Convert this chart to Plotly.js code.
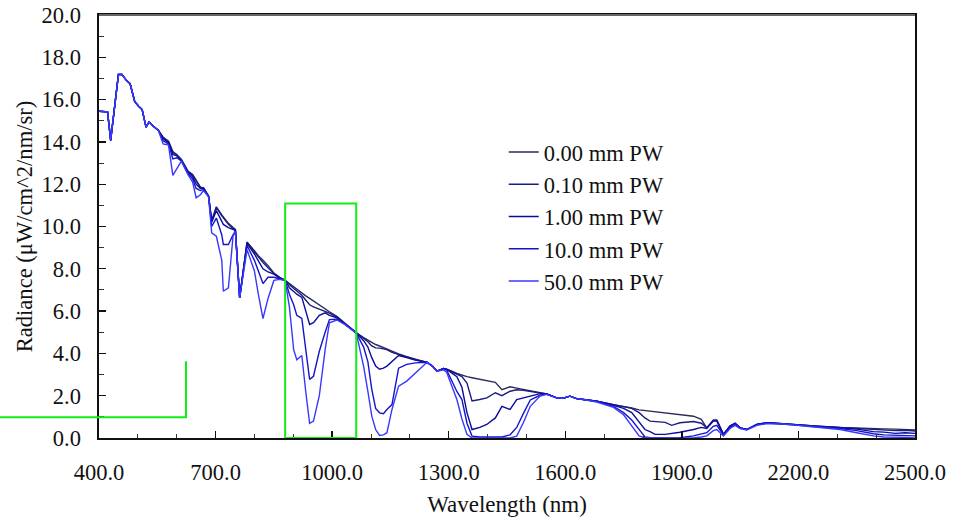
<!DOCTYPE html>
<html>
<head>
<meta charset="utf-8">
<script src="https://cdn.plot.ly/plotly-3.0.1.min.js"></script>
</head>
<body style="margin:0;background:#fff">
<div id="chart"></div>
<script>
// Wavelength grid (nm)
const wavelength = [
  400, 422, 430, 442, 450, 459, 470, 480, 492, 502,
  511, 521, 529, 540, 553, 565, 579, 590, 600, 612,
  629, 641, 650, 661, 669, 682, 690, 702, 716, 720,
  733, 745, 751, 762, 781, 800, 810, 822, 835, 850,
  865, 879, 890, 901, 909, 922, 932, 942, 952, 967,
  982, 993, 1012, 1030, 1062, 1081, 1092, 1102, 1112, 1122,
  1132, 1141, 1154, 1171, 1192, 1214, 1244, 1258, 1270, 1287,
  1295, 1305, 1321, 1334, 1347, 1360, 1380, 1398, 1420, 1437,
  1458, 1475, 1492, 1510, 1535, 1552, 1578, 1595, 1612, 1629,
  1647, 1681, 1724, 1750, 1771, 1790, 1805, 1818, 1831, 1857,
  1874, 1895, 1930, 1950, 1964, 1981, 1990, 2007, 2024, 2037,
  2050, 2067, 2093, 2119, 2160, 2196, 2250, 2307, 2350, 2393,
  2420, 2450, 2475, 2500
];

const pw_0_00 = [
  15.45, 15.42, 14.07, 16.0, 17.19, 17.19, 16.92, 16.75, 15.9, 15.69,
  15.53, 14.7, 14.95, 14.74, 14.54, 14.22, 14.03, 13.55, 13.4, 13.17,
  12.62, 12.46, 12.2, 11.86, 11.83, 11.43, 10.3, 10.93, 10.55, 10.45,
  10.15, 9.95, 9.86, 6.65, 9.26, 8.85, 8.62, 8.4, 8.15, 7.8,
  7.6, 7.46, 7.3, 7.15, 7.03, 6.85, 6.72, 6.6, 6.47, 6.28,
  6.1, 5.97, 5.75, 5.48, 4.97, 4.75, 4.63, 4.52, 4.42, 4.35,
  4.27, 4.2, 4.1, 3.98, 3.85, 3.72, 3.58, 3.4, 3.16, 3.29,
  3.25, 3.18, 3.05, 2.97, 2.9, 2.85, 2.78, 2.72, 2.63, 2.28,
  2.42, 2.36, 2.3, 2.22, 2.13, 2.08, 1.9, 1.88, 1.98, 1.86,
  1.82, 1.74, 1.58, 1.5, 1.42, 1.33, 1.3, 1.27, 1.24, 1.2,
  1.16, 1.1, 1.03, 0.88, 0.48, 0.84, 0.84, 0.17, 0.56, 0.69,
  0.48, 0.4, 0.64, 0.72, 0.68, 0.62, 0.56, 0.5, 0.46, 0.44,
  0.43, 0.42, 0.4, 0.38
];

const pw_0_10 = [
  15.45, 15.42, 14.07, 16.0, 17.19, 17.19, 16.92, 16.75, 15.9, 15.69,
  15.53, 14.7, 14.95, 14.74, 14.54, 14.2, 14.0, 13.5, 13.38, 13.15,
  12.6, 12.42, 12.15, 11.84, 11.82, 11.43, 10.25, 10.9, 10.5, 10.4,
  10.1, 9.9, 9.84, 6.63, 9.26, 8.8, 8.55, 8.3, 8.05, 7.78,
  7.58, 7.46, 7.25, 7.05, 6.95, 6.75, 6.55, 6.3, 6.2, 6.1,
  6.0, 5.9, 5.72, 5.46, 4.97, 4.72, 4.55, 4.35, 4.26, 4.25,
  4.22, 4.18, 4.05, 3.95, 3.83, 3.7, 3.58, 3.4, 3.16, 3.29,
  3.25, 3.16, 3.02, 2.9, 2.6, 1.75, 1.82, 1.9, 2.14, 2.0,
  2.21, 2.28, 2.25, 2.2, 2.12, 2.08, 1.9, 1.88, 1.98, 1.86,
  1.82, 1.74, 1.58, 1.5, 1.4, 1.2, 0.95, 0.8, 0.78, 0.74,
  0.6, 0.72, 0.78, 0.7, 0.48, 0.84, 0.84, 0.17, 0.56, 0.69,
  0.48, 0.4, 0.64, 0.72, 0.68, 0.62, 0.56, 0.5, 0.45, 0.4,
  0.37, 0.35, 0.36, 0.33
];

const pw_1_00 = [
  15.45, 15.42, 14.07, 16.0, 17.19, 17.19, 16.92, 16.75, 15.9, 15.69,
  15.53, 14.7, 14.95, 14.74, 14.54, 14.15, 13.95, 13.4, 13.35, 13.12,
  12.55, 12.35, 12.0, 11.8, 11.8, 11.43, 10.2, 10.75, 10.2, 10.1,
  9.95, 9.85, 9.82, 6.63, 9.2, 8.7, 8.4, 8.0, 7.85, 7.75,
  7.55, 7.46, 7.1, 6.9, 6.8, 6.65, 6.0, 5.37, 5.45, 5.8,
  5.92, 5.8, 5.68, 5.44, 4.97, 4.6, 4.3, 3.8, 3.4, 3.25,
  3.3, 3.4, 3.6, 3.9, 3.8, 3.68, 3.58, 3.4, 3.16, 3.29,
  3.24, 3.1, 2.9, 2.4, 1.2, 0.4, 0.5, 0.64, 0.95, 1.5,
  1.35, 1.82, 1.9, 1.98, 2.1, 2.08, 1.9, 1.88, 1.98, 1.86,
  1.82, 1.74, 1.55, 1.4, 1.2, 0.75, 0.4, 0.3, 0.17, 0.17,
  0.2, 0.27, 0.4, 0.5, 0.45, 0.8, 0.8, 0.17, 0.56, 0.69,
  0.48, 0.4, 0.64, 0.72, 0.68, 0.62, 0.55, 0.48, 0.42, 0.3,
  0.28, 0.22, 0.25, 0.22
];

const pw_10_0 = [
  15.45, 15.42, 14.07, 16.0, 17.19, 17.19, 16.92, 16.75, 15.9, 15.69,
  15.53, 14.7, 14.95, 14.74, 14.54, 14.05, 13.9, 13.2, 13.25, 13.1,
  12.5, 12.25, 11.8, 11.7, 11.75, 11.43, 10.0, 10.4, 9.6, 9.15,
  9.15, 9.6, 9.78, 6.63, 9.1, 8.4, 7.9, 7.3, 7.6, 7.6,
  7.52, 7.46, 6.8, 6.3, 5.8, 5.65, 4.2, 2.77, 2.92, 4.1,
  5.0, 5.6, 5.62, 5.42, 4.97, 4.3, 3.6, 2.3, 1.4, 1.19,
  1.15, 1.35, 1.58, 3.3, 3.48, 3.55, 3.58, 3.4, 3.16, 3.29,
  3.2, 2.8, 2.2, 1.82, 0.7, 0.09, 0.05, 0.05, 0.05, 0.05,
  0.15, 0.5, 1.15, 1.8, 2.02, 2.08, 1.9, 1.88, 1.98, 1.86,
  1.82, 1.74, 1.5, 1.2, 0.85, 0.4, 0.05, 0.02, 0.0, 0.0,
  0.0, 0.02, 0.1, 0.2, 0.25, 0.55, 0.6, 0.15, 0.5, 0.67,
  0.47, 0.4, 0.63, 0.71, 0.67, 0.61, 0.52, 0.45, 0.35, 0.2,
  0.15, 0.12, 0.12, 0.1
];

const pw_50_0 = [
  15.45, 15.42, 14.07, 16.0, 17.19, 17.19, 16.92, 16.75, 15.9, 15.69,
  15.53, 14.7, 14.95, 14.74, 14.54, 13.9, 13.85, 12.42, 12.75, 13.09,
  12.45, 12.1, 11.36, 11.5, 11.7, 11.4, 9.7, 9.54, 8.4, 6.94,
  7.1, 9.55, 9.75, 6.63, 8.9, 7.9, 6.8, 5.65, 6.6, 7.45,
  7.5, 7.46, 6.2, 4.18, 3.7, 3.9, 2.2, 0.69, 0.8, 2.0,
  4.18, 5.45, 5.58, 5.4, 4.97, 3.39, 2.2, 1.03, 0.4, 0.12,
  0.15, 0.25, 1.35, 2.45, 2.69, 3.08, 3.58, 3.4, 3.16, 3.22,
  3.1, 2.6, 1.82, 0.9, 0.17, 0.0, 0.0, 0.0, 0.0, 0.0,
  0.0, 0.09, 0.72, 1.5, 1.98, 2.06, 1.9, 1.88, 1.98, 1.86,
  1.82, 1.7, 1.45, 1.1, 0.56, 0.1, 0.0, 0.0, 0.0, 0.0,
  0.0, 0.0, 0.0, 0.05, 0.1, 0.35, 0.4, 0.1, 0.45, 0.6,
  0.45, 0.38, 0.6, 0.68, 0.66, 0.6, 0.5, 0.4, 0.25, 0.1,
  0.05, 0.05, 0.03, 0.0
];

const seriesNames = ['0.00 mm PW', '0.10 mm PW', '1.00 mm PW', '10.0 mm PW', '50.0 mm PW'];
const seriesValues = [pw_0_00, pw_0_10, pw_1_00, pw_10_0, pw_50_0];
const seriesColors = ['#2b2b5e', '#1c1c80', '#0c0c9c', '#1414cc', '#3838ff'];

const FONT = '"Liberation Serif", serif';

const traces = seriesValues.map((vals, i) => ({
  type: 'scatter',
  mode: 'lines',
  name: seriesNames[i],
  x: wavelength,
  y: vals,
  line: {color: seriesColors[i], width: 1.4}
}));

const layout = {
  width: 972,
  height: 523,
  margin: {l: 99, r: 57, t: 15, b: 85},
  paper_bgcolor: '#ffffff',
  plot_bgcolor: '#ffffff',
  font: {family: FONT, size: 22, color: '#111111'},
  showlegend: true,
  legend: {
    x: 0.496, y: 0.726, xanchor: 'left', yanchor: 'top',
    bgcolor: 'rgba(0,0,0,0)', borderwidth: 0,
    font: {family: FONT, size: 22.5, color: '#111111'},
    traceorder: 'normal'
  },
  xaxis: {
    range: [400, 2500],
    tick0: 400, dtick: 300,
    tickformat: '.1f',
    ticks: 'inside', ticklen: 7, tickwidth: 1.3, tickcolor: '#111',
    minor: {dtick: 100, ticks: 'inside', ticklen: 4, tickwidth: 1, tickcolor: '#333', showgrid: false},
    showgrid: false, zeroline: false,
    showline: true, linecolor: '#111', linewidth: 1.6, mirror: true,
    ticklabelstandoff: 13,
    tickfont: {family: FONT, size: 22.5, color: '#111'},
    title: {text: 'Wavelength (nm)', font: {family: FONT, size: 23, color: '#111'}, standoff: 12}
  },
  yaxis: {
    range: [0, 20],
    tick0: 0, dtick: 2,
    tickformat: '.1f',
    ticks: 'inside', ticklen: 7, tickwidth: 1.3, tickcolor: '#111',
    minor: {dtick: 1, ticks: 'inside', ticklen: 5, tickwidth: 1, tickcolor: '#333', showgrid: false},
    showgrid: false, zeroline: false,
    showline: true, linecolor: '#111', linewidth: 1.6, mirror: true,
    ticklabelstandoff: 12,
    tickfont: {family: FONT, size: 22.5, color: '#111'},
    title: {text: 'Radiance (μW/cm^2/nm/sr)', font: {family: FONT, size: 22.6, color: '#111'}, standoff: 2}
  },
  shapes: [
    {type: 'line', xref: 'paper', yref: 'paper', x0: 0, x1: 1, y0: 1, y1: 1,
     line: {color: '#666666', width: 2}},
    {type: 'rect', xref: 'x', yref: 'y', x0: 879, x1: 1062, y0: 0, y1: 11.09,
     line: {color: '#11ee11', width: 2}, fillcolor: 'rgba(0,0,0,0)'},
    {type: 'path', xref: 'paper', yref: 'paper',
     path: 'M -0.125 0.0491 L 0.1066 0.0491 L 0.1066 0.1813',
     line: {color: '#11ee11', width: 2}}
  ]
};

Plotly.newPlot('chart', traces, layout, {displayModeBar: false, staticPlot: true});
</script>
</body>
</html>
